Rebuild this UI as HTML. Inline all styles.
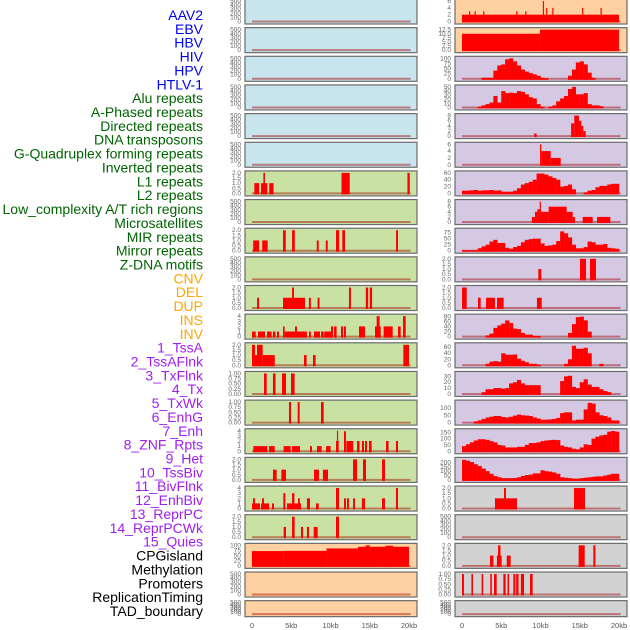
<!DOCTYPE html>
<html><head><meta charset="utf-8"><style>
body{margin:0;background:#fff;width:630px;height:630px;overflow:hidden}
svg{display:block}
.lbl{font-family:"Liberation Sans",sans-serif;font-size:14px}
.tk{font-family:"Liberation Sans",sans-serif;font-size:6.5px;fill:#666}
.ax{font-family:"Liberation Sans",sans-serif;font-size:7.5px;fill:#555}
</style></head><body>
<svg id="chart" width="630" height="630" viewBox="0 0 630 630"></svg>
<script>
const labelNames = ["AAV2","EBV","HBV","HIV","HPV","HTLV-1","Alu repeats","A-Phased repeats","Directed repeats","DNA transposons","G-Quadruplex forming repeats","Inverted repeats","L1 repeats","L2 repeats","Low_complexity A/T rich regions","Microsatellites","MIR repeats","Mirror repeats","Z-DNA motifs","CNV","DEL","DUP","INS","INV","1_TssA","2_TssAFlnk","3_TxFlnk","4_Tx","5_TxWk","6_EnhG","7_Enh","8_ZNF_Rpts","9_Het","10_TssBiv","11_BivFlnk","12_EnhBiv","13_ReprPC","14_ReprPCWk","15_Quies","CPGisland","Methylation","Promoters","ReplicationTiming","TAD_boundary"];
const labelGroups = [0,0,0,0,0,0,1,1,1,1,1,1,1,1,1,1,1,1,1,2,2,2,2,2,3,3,3,3,3,3,3,3,3,3,3,3,3,3,3,4,4,4,4,4];
const xTicks = [0,5,10,15,20];
const xTickLabels = ["0","5kb","10kb","15kb","20kb"];

const L_L1 = [[0.3,0.9,1],[1.15,1.95,1],[1.45,1.65,2],[2.2,2.75,1],[11.4,12.45,2],[19.8,20.1,2]];
const L_MIR = [[0.15,0.9,1],[1.3,2.0,1],[3.95,4.3,2],[5.1,5.45,2],[8.25,8.5,1],[9.4,9.65,1],[10.7,11.1,2],[11.5,11.85,2],[18.35,18.6,2]];
const L_DEL = [[0.65,0.9,1],[3.95,6.75,1],[5.1,5.35,2],[7.25,7.5,1],[8.35,8.6,1],[12.35,12.6,2],[14.5,14.8,2],[15.0,15.3,2]];
const L_INS = [[0,0.47,1],[0.76,1.66,1],[1.91,2.5,1],[2.67,3.0,1],[3.18,3.44,1],[3.95,4.16,2],[4.16,7.0,1],[5.48,5.73,2],[7.26,7.5,1],[7.9,8.66,1],[8.79,9.13,1],[9.2,10.23,1],[10.06,10.32,2],[10.45,10.78,2],[11.34,11.6,2],[11.72,11.97,2],[13.63,14.4,2],[15.67,16.4,2],[15.88,16.26,4],[16.77,17.92,2],[18.6,18.94,2],[19.24,19.58,4]];
const L_TssA = [[0,0.38,2],[0.38,0.64,1],[0.64,1.36,2],[1.36,2.9,1],[6.62,6.96,1],[7.77,8.1,1],[19.28,20,2]];
const L_TxFlnk = [[1.53,1.87,1],[2.67,3.0,1],[3.82,4.33,1],[4.97,5.43,1]];
const L_TxWk = [[4.71,4.97,1],[5.82,6.07,1],[8.79,9.13,1]];
const L_Enh = [[0.17,1.95,1],[2.17,2.89,1],[4.03,4.93,1],[5.1,6.11,1],[7.39,7.64,1],[8.28,8.87,1],[9.43,10.02,1],[10.7,11.04,2],[10.82,10.9,4],[11.72,11.97,3.9],[12.02,12.9,2],[13.38,13.7,2],[14.0,14.27,2],[14.4,14.65,2],[14.9,15.24,2],[17.07,17.4,2],[18.34,18.6,2]];
const L_Het = [[2.67,3.14,1],[3.74,4.33,1],[7.9,8.53,1],[9.04,9.68,1],[12.87,13.38,2],[14.14,14.52,2],[16.56,16.94,2]];
const L_BivFlnk = [[0,1.02,1],[0.13,0.38,2],[1.15,2.17,1],[1.28,1.53,2],[2.55,2.8,1],[3.99,4.25,3],[4.46,5.6,1],[5.1,5.4,3],[5.6,6.24,1],[5.86,6.1,2],[7.0,7.39,2],[8.15,8.5,1],[10.7,11.08,4],[11.72,11.97,2],[12.1,12.35,2],[12.87,13.12,2],[14.0,14.4,2],[16.56,16.94,2],[18.34,18.6,4]];
const L_ReprPC = [[4.03,4.33,1],[5.1,5.43,2],[6.24,6.5,1],[7.0,7.26,1],[7.86,8.37,1],[10.7,11.08,2]];
const L_CPG = [[0,4,72],[4,9.5,73],[9.5,13.5,85],[13.5,20,93],[14.5,15,100],[17,18,98]];

const R_AAV2 = [[0,20,2],[0.9,1.05,3],[1.6,1.75,3],[2.7,2.85,3],[6.9,7.05,3],[8.05,8.2,3],[10.3,10.42,6],[10.72,10.85,4],[11.5,11.65,4],[15.3,15.45,4],[17.65,17.8,4]];
const R_EBV = [[0,9.94,10],[9.94,20,12.5]];
const R_HIV = [0,0,0,0,0,5,5,5,40,65,70,95,100,85,65,45,35,28,22,15,5,3,0,0,0,0,0,15,45,80,85,70,30,5,0,0,0,0,0,0];
const R_Alu = [0,0,0,0,2,5,8,12,28,12,40,35,36,35,40,38,32,25,22,8,2,0,2,5,15,22,28,45,50,32,32,35,8,5,5,3,0,0,0,0];
const R_APh = [[9.2,9.5,1],[13.9,14.3,5],[14.3,14.9,8],[14.9,15.2,6],[15.2,15.45,4],[15.45,15.75,2]];
const R_DNA = [[9.94,10.1,6],[10.1,11.3,4],[11.3,12.57,2]];
const R_L1 = [8,8,9,10,8,9,9,10,8,9,5,5,5,8,15,26,30,34,40,58,58,55,50,45,40,20,22,26,12,0,0,3,8,10,18,22,22,26,28,28];
const R_L2 = [[8.9,9.3,2],[9.3,9.6,4],[9.6,9.94,5],[9.9,10.02,8],[10.02,11.04,4],[11.04,13.33,6],[13.33,14.1,4],[14.1,14.4,2],[15.37,16.65,2],[17.2,18.9,2]];
const R_MIR = [3,2,2,2,10,18,25,38,45,32,32,12,8,15,20,35,45,48,50,50,30,20,22,25,40,80,72,55,25,10,10,15,38,35,25,25,28,12,10,8];
const R_ZDNA = [[9.72,10.1,1],[15.03,15.8,2],[16.3,17.07,2]];
const R_DEL = [[0,0.6,2],[2.04,2.38,1],[3.06,4.2,1],[4.46,5.3,1],[9.55,10.15,1]];
const R_INS = [0,0,0,0,0,0,5,12,35,45,52,65,55,32,30,15,8,8,3,3,0,0,0,0,0,0,0,15,50,78,80,65,20,0,0,0,0,0,0,0];
const R_TssA = [0,0,0,0,0,0,5,12,14,12,40,35,35,36,22,15,10,5,5,2,0,0,0,0,0,0,5,20,65,55,55,58,40,0,0,5,0,0,0,0];
const R_TxFlnk = [0,0,0,0,0,3,8,8,10,10,9,10,18,20,24,18,15,15,15,15,0,0,0,0,0,22,30,31,12,10,20,25,16,12,12,8,5,3,0,0];
const R_TxWk = [0,0,0,8,15,25,35,40,45,45,38,35,40,48,55,50,48,45,35,28,20,20,22,25,32,65,70,70,15,20,20,90,135,130,70,50,45,35,15,15];
const R_Enh = [40,55,70,85,95,95,90,80,70,50,45,30,30,30,35,35,50,65,65,70,80,85,88,90,88,45,35,30,20,15,30,55,50,100,115,125,130,155,160,155];
const R_Het = [230,220,205,180,160,130,100,70,45,30,20,20,20,22,30,45,55,60,75,75,110,100,95,85,70,30,25,20,15,15,20,25,30,35,40,40,50,60,70,70];
const R_BivFlnk = [[4.2,7.0,1],[5.35,5.6,2],[14.27,15.67,2]];
const R_ReprPC = [[3.57,4.0,1],[4.45,5.05,1],[4.59,4.9,2],[5.7,6.2,1],[14.86,15.63,2],[16.73,17.0,2]];
const R_Promoters = [[0,0.25,1],[1.2,1.4,1],[2.5,2.7,1],[3.6,3.8,1],[4.08,4.42,1],[5.27,5.56,1],[5.8,6.0,1],[6.54,6.8,1],[6.9,7.2,1],[7.5,7.9,1],[8.66,9.0,1]];

const T500=[0,100,200,300,400,500], T2=[0,0.5,1,1.5,2], T1=[0,0.25,0.5,0.75,1], T4=[0,1,2,3,4];
const BG={blue:"#c8e4ec",green:"#c9e2a3",orange:"#ffd1a1",purple:"#d5c8e3",gray:"#d2d2d2"};
const leftPanels = [
 [null,"e",500,T500,0,"blue"],[null,"e",500,T500,0,"blue"],[null,"e",500,T500,0,"blue"],[null,"e",500,T500,0,"blue"],[null,"e",500,T500,0,"blue"],[null,"e",500,T500,0,"blue"],
 [L_L1,"s",2,T2,1,"green"],[null,"e",500,T500,0,"green"],[L_MIR,"s",2,T2,1,"green"],[null,"e",500,T500,0,"green"],[L_DEL,"s",2,T2,1,"green"],[L_INS,"s",4,T4,0,"green"],
 [L_TssA,"s",2,T2,1,"green"],[L_TxFlnk,"s",1,T1,2,"green"],[L_TxWk,"s",1,T1,2,"green"],[L_Enh,"s",4,T4,0,"green"],[L_Het,"s",2,T2,1,"green"],[L_BivFlnk,"s",4,T4,0,"green"],[L_ReprPC,"s",2,T2,1,"green"],
 [L_CPG,"s",100,[0,25,50,75,100],0,"orange"],[null,"e",500,T500,0,"orange"],[null,"e",500,T500,0,"orange"]];
const rightPanels = [
 [R_AAV2,"s",6,[0,2,4,6],0,"orange"],[R_EBV,"s",12.5,[0,2.5,5,7.5,10,12.5],1,"orange"],
 [R_HIV,"b",100,[0,25,50,75,100],0,"purple"],[R_Alu,"b",50,[0,10,20,30,40,50],0,"purple"],[R_APh,"s",8,[0,2,4,6,8],0,"purple"],[R_DNA,"s",6,[0,2,4,6],0,"purple"],
 [R_L1,"b",60,[0,20,40,60],0,"purple"],[R_L2,"s",8,[0,2,4,6,8],0,"purple"],[R_MIR,"b",85,[0,25,50,75],0,"purple"],[R_ZDNA,"s",2,T2,1,"purple"],[R_DEL,"s",2,T2,1,"purple"],
 [R_INS,"b",82,[0,20,40,60,80],0,"purple"],[R_TssA,"b",68,[0,20,40,60],0,"purple"],[R_TxFlnk,"b",35,[0,10,20,30],0,"purple"],[R_TxWk,"b",140,[0,50,100],0,"purple"],
 [R_Enh,"b",162,[0,50,100,150],0,"purple"],[R_Het,"b",235,[0,50,100,150,200],0,"purple"],
 [R_BivFlnk,"s",2,T2,1,"gray"],[null,"e",500,T500,0,"gray"],[R_ReprPC,"s",2,T2,1,"gray"],[R_Promoters,"s",1,T1,2,"gray"],[null,"e",500,T500,0,"gray"]];

const NS="http://www.w3.org/2000/svg";
const svg=document.getElementById("chart");
function mk(tag,attrs,parent){const e=document.createElementNS(NS,tag);for(const k in attrs)e.setAttribute(k,attrs[k]);(parent||svg).appendChild(e);return e;}
const groupColors=["#0000ee","#006400","#ffa500","#a020f0","#000000"];
labelNames.forEach((t,i)=>{
  const e=mk("text",{x:203,y:15+i*13.86+5,"text-anchor":"end",class:"lbl",fill:groupColors[labelGroups[i]]});
  
  
  e.textContent=t;
});
function drawPanel(p,col,row){
  const [data,type,max,ticks,dec,bg]=p;
  const x0=col===0?245:455, w=172, top=-1+row*28.65, h=row===21?16:25;
  const xs=kb=>x0+7+kb*7.85;
  const y0=top+h-2.5, ys=v=>y0-(v/max)*(h-4.5);
  const g=mk("g",{});
  
  
  mk("rect",{x:x0,y:top,width:w,height:h,fill:BG[bg],stroke:"#6b6b6b","stroke-width":1.2},g);
  mk("line",{x1:xs(0),x2:xs(20.2),y1:y0,y2:y0,stroke:"rgba(160,0,0,0.45)","stroke-width":2},g);
  if(type==="s"){data.forEach(s=>{const r=mk("rect",{x:xs(s[0]),y:ys(s[2]),width:Math.max(1.2,xs(s[1])-xs(s[0])),height:y0-ys(s[2])+1,fill:"#ff0000"},g);});}
  if(type==="b"){data.forEach((v,i)=>{if(v<=0)return;const r=mk("rect",{x:xs(i*0.5),y:ys(v),width:xs(0.5)-xs(0)+0.2,height:y0-ys(v)+1,fill:"#ff0000"},g);});}
  ticks.forEach(t=>{const e=mk("text",{x:x0-4,y:ys(t)+2,"text-anchor":"end",class:"tk"},g);e.textContent=t.toFixed(dec);});
}
leftPanels.forEach((p,i)=>drawPanel(p,0,i));
rightPanels.forEach((p,i)=>drawPanel(p,1,i));
[245,455].forEach(x0=>{xTicks.forEach((k,i)=>{const e=mk("text",{x:x0+7+k*7.85,y:628,"text-anchor":"middle",class:"ax"});e.textContent=xTickLabels[i];});});
</script>
</body></html>
